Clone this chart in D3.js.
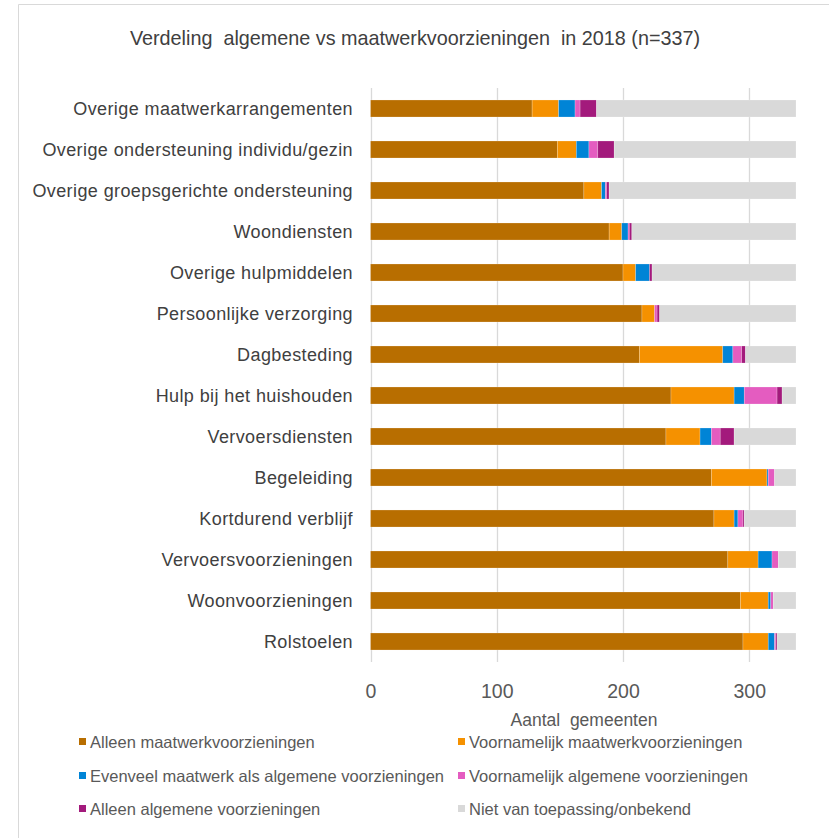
<!DOCTYPE html>
<html>
<head>
<meta charset="utf-8">
<script src="https://cdn.jsdelivr.net/npm/d3@7"></script>
<style>
  html, body { margin: 0; padding: 0; background: #fff; }
  svg { display: block; font-family: "Liberation Sans", Arial, sans-serif; }
</style>
</head>
<body>
<svg id="chart" width="829" height="838"></svg>
<script>
const categories = [
  "Overige maatwerkarrangementen",
  "Overige ondersteuning individu/gezin",
  "Overige groepsgerichte ondersteuning",
  "Woondiensten",
  "Overige hulpmiddelen",
  "Persoonlijke verzorging",
  "Dagbesteding",
  "Hulp bij het huishouden",
  "Vervoersdiensten",
  "Begeleiding",
  "Kortdurend verblijf",
  "Vervoersvoorzieningen",
  "Woonvoorzieningen",
  "Rolstoelen"
];
const seriesNames = [
  "Alleen maatwerkvoorzieningen",
  "Voornamelijk maatwerkvoorzieningen",
  "Evenveel maatwerk als algemene voorzieningen",
  "Voornamelijk algemene voorzieningen",
  "Alleen algemene voorzieningen",
  "Niet van toepassing/onbekend"
];
const alleenMaatwerk      = [128, 148, 169, 189, 200, 215, 213, 238, 234, 270, 272, 283, 293, 295];
const voornamelijkMaatwerk = [21,  15,  14,  10,  10,  10,  66,  50,  27,  44,  16,  24,  22,  20];
const evenveel            = [13,  10,   3,   5,  11,   0,   8,   8,   9,   1,   3,  11,   2,   5];
const voornamelijkAlg     = [4,    7,   1,   1,   0,   2,   7,  26,   7,   5,   4,   5,   2,   1];
const alleenAlg           = [13,  13,   2,   2,   2,   2,   3,   4,  11,   0,   1,   0,   0,   1];
const nietVanToepassing   = [158, 144, 148, 130, 114, 108, 40,  11,  49,  17,  41,  14,  18,  15];
const xTicks = [0, 100, 200, 300];
const colors = ["#b86e00", "#f59100", "#0084d6", "#e45cc0", "#a31a7c", "#d9d9d9"];

const allSeries = [alleenMaatwerk, voornamelijkMaatwerk, evenveel, voornamelijkAlg, alleenAlg, nietVanToepassing];
const rows = categories.map((c, i) => {
  const o = { cat: c };
  seriesNames.forEach((s, j) => o[s] = allSeries[j][i]);
  return o;
});
const stacked = d3.stack().keys(seriesNames)(rows);

const svg = d3.select("#chart");
const textCol = "#404040";

// frame
svg.append("path")
  .attr("d", "M18.5,838 L18.5,4.5 L829,4.5")
  .attr("fill", "none").attr("stroke", "#d9d9d9").attr("stroke-width", 1);

// title
svg.append("text")
  .attr("x", 415).attr("y", 45)
  .attr("text-anchor", "middle")
  .attr("font-size", 19.8)
  .attr("fill", textCol)
  .attr("xml:space", "preserve")
  .text("Verdeling  algemene vs maatwerkvoorzieningen  in 2018 (n=337)");

const x = d3.scaleLinear().domain([0, 337]).range([370.5, 796]);
const y = d3.scaleBand().domain(categories).range([88, 662])
  .paddingInner(0.585).paddingOuter(0.2925);

// gridlines
svg.append("g").selectAll("line").data(xTicks).join("line")
  .attr("x1", d => Math.round(x(d)) + 0.5).attr("x2", d => Math.round(x(d)) + 0.5)
  .attr("y1", 88).attr("y2", 662)
  .attr("stroke", "#d9d9d9").attr("stroke-width", 1.3);

// bars
svg.append("g").selectAll("g").data(stacked).join("g")
  .attr("fill", (d, i) => colors[i])
  .selectAll("rect").data(d => d).join("rect")
  .attr("x", d => x(d[0]))
  .attr("width", d => Math.max(0, x(d[1]) - x(d[0])))
  .attr("y", d => y(d.data.cat))
  .attr("height", y.bandwidth())
  .attr("stroke", "rgba(255,255,255,0.35)")
  .attr("stroke-width", 0.6);

// category labels
const yAxis = d3.axisLeft(y).tickSize(0).tickPadding(0);
const gy = svg.append("g").attr("transform", "translate(353,0)").call(yAxis);
gy.select(".domain").remove();
gy.selectAll("text")
  .attr("font-size", 18)
  .attr("font-family", "Liberation Sans, Arial, sans-serif")
  .attr("fill", textCol)
  .attr("letter-spacing", 0.4)
  .attr("dy", "0.35em");

// x axis labels
const xAxis = d3.axisBottom(x).tickValues(xTicks).tickSize(0).tickPadding(0);
const gx = svg.append("g").attr("transform", "translate(0,691)").call(xAxis);
gx.select(".domain").remove();
gx.selectAll("text")
  .attr("font-size", 19.5)
  .attr("font-family", "Liberation Sans, Arial, sans-serif")
  .attr("fill", "#595959")
  .attr("dy", "0.35em");

// axis title
svg.append("text")
  .attr("x", 584).attr("y", 720).attr("dy", "0.35em")
  .attr("text-anchor", "middle")
  .attr("font-size", 17.5)
  .attr("fill", "#595959")
  .attr("xml:space", "preserve")
  .text("Aantal  gemeenten");

// legend
const legendPos = [[79, 742], [458, 742], [79, 776], [458, 776], [79, 809], [458, 809]];
const lg = svg.append("g").selectAll("g").data(seriesNames).join("g")
  .attr("transform", (d, i) => `translate(${legendPos[i][0]},${legendPos[i][1]})`);
lg.append("rect").attr("x", 0).attr("y", -4).attr("width", 7).attr("height", 7)
  .attr("fill", (d, i) => colors[i]);
lg.append("text").attr("x", 11).attr("y", 0).attr("dy", "0.35em")
  .attr("font-size", 16.5)
  .attr("fill", "#595959")
  .text(d => d);
</script>
</body>
</html>
